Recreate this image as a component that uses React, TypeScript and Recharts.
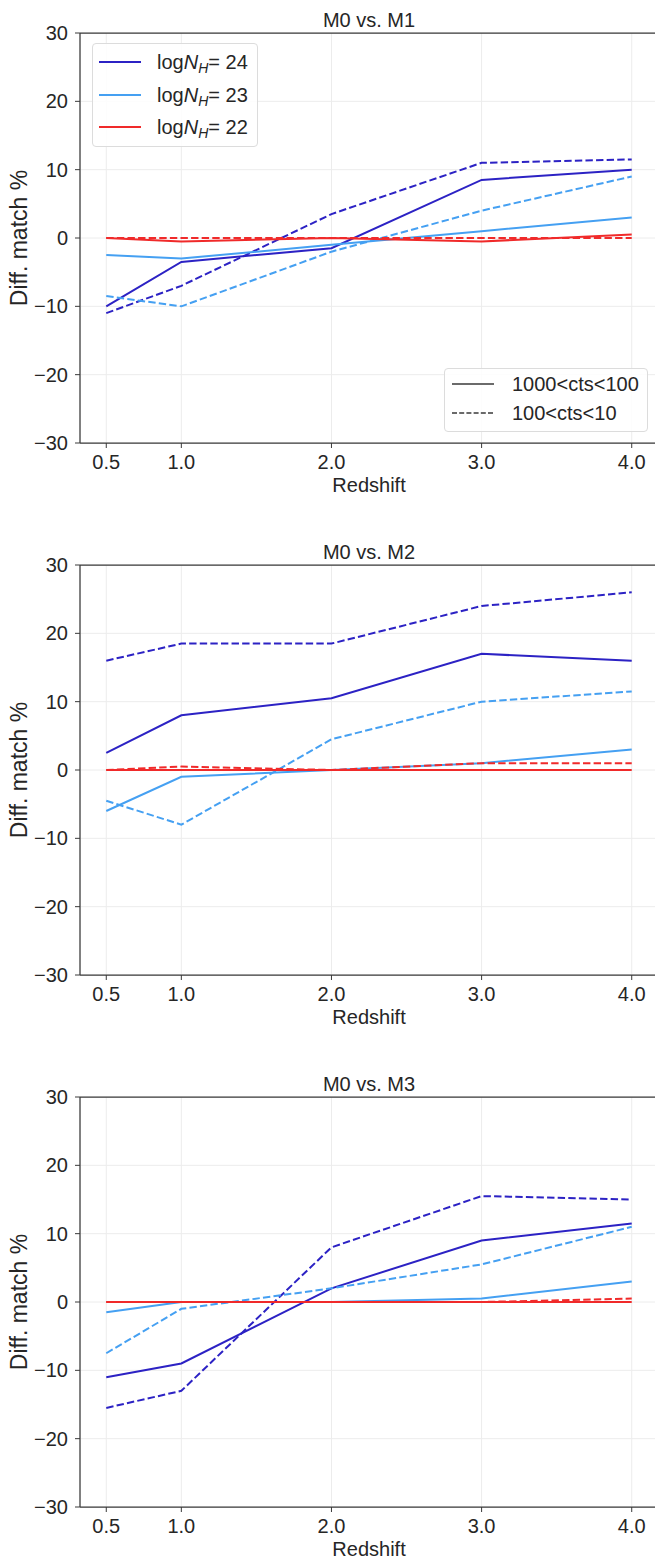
import { LineChart, Line, XAxis, YAxis, CartesianGrid, ReferenceLine } from 'recharts';

// redshift bins shared by every panel
const redshift = [0.5, 1.0, 2.0, 3.0, 4.0];
const xTicks = [0.5, 1.0, 2.0, 3.0, 4.0];
const yTicks = [-30, -20, -10, 0, 10, 20, 30];

// M0 vs. M1
const m1Nh24Bright = [-10, -3.5, -1.5, 8.5, 10];
const m1Nh24Faint = [-11, -7, 3.5, 11, 11.5];
const m1Nh23Bright = [-2.5, -3, -1, 1, 3];
const m1Nh23Faint = [-8.5, -10, -2, 4, 9];
const m1Nh22Bright = [0, -0.5, 0, -0.5, 0.5];
const m1Nh22Faint = [0, 0, 0, 0, 0];

// M0 vs. M2
const m2Nh24Bright = [2.5, 8, 10.5, 17, 16];
const m2Nh24Faint = [16, 18.5, 18.5, 24, 26];
const m2Nh23Bright = [-6, -1, 0, 1, 3];
const m2Nh23Faint = [-4.5, -8, 4.5, 10, 11.5];
const m2Nh22Bright = [0, 0, 0, 0, 0];
const m2Nh22Faint = [0, 0.5, 0, 1, 1];

// M0 vs. M3
const m3Nh24Bright = [-11, -9, 2, 9, 11.5];
const m3Nh24Faint = [-15.5, -13, 8, 15.5, 15];
const m3Nh23Bright = [-1.5, 0, 0, 0.5, 3];
const m3Nh23Faint = [-7.5, -1, 2, 5.5, 11];
const m3Nh22Bright = [0, 0, 0, 0, 0];
const m3Nh22Faint = [0, 0, 0, 0, 0.5];

const titles = ['M0 vs. M1', 'M0 vs. M2', 'M0 vs. M3'];
const nhLabels = ['24', '23', '22'];
const ctsLabels = ['1000<cts<100', '100<cts<10'];

const FONT = '"Liberation Sans", Arial, sans-serif';
const TEXT = '#262626';
const SPINE = '#3a3a3a';
const DARK = '#2c22c4';
const LIGHT = '#45a0f2';
const RED = '#f02a2a';
const DASH = '7.4 3.2';

const seriesDefs = [
  { key: 'nh24b', color: DARK, dash: undefined },
  { key: 'nh24f', color: DARK, dash: DASH },
  { key: 'nh23b', color: LIGHT, dash: undefined },
  { key: 'nh23f', color: LIGHT, dash: DASH },
  { key: 'nh22b', color: RED, dash: undefined },
  { key: 'nh22f', color: RED, dash: DASH },
];

const panelSeries = [
  [m1Nh24Bright, m1Nh24Faint, m1Nh23Bright, m1Nh23Faint, m1Nh22Bright, m1Nh22Faint],
  [m2Nh24Bright, m2Nh24Faint, m2Nh23Bright, m2Nh23Faint, m2Nh22Bright, m2Nh22Faint],
  [m3Nh24Bright, m3Nh24Faint, m3Nh23Bright, m3Nh23Faint, m3Nh22Bright, m3Nh22Faint],
];

const buildRows = (series: number[][]) =>
  redshift.map((z, i) => {
    const row: any = { z };
    seriesDefs.forEach((s, j) => {
      row[s.key] = series[j][i];
    });
    return row;
  });

const fmtY = (v: number) => (v < 0 ? `\u2212${Math.abs(v)}` : `${v}`);

function NhLegend() {
  const colors = [DARK, LIGHT, RED];
  return (
    <div
      style={{
        position: 'absolute', left: 92, top: 43, width: 166, height: 104,
        border: '1px solid #dcdcdc', borderRadius: 4, boxSizing: 'border-box',
        background: 'rgba(255,255,255,0.85)', fontFamily: FONT, fontSize: 20, color: TEXT,
      }}
    >
      {nhLabels.map((lab, i) => (
        <div key={lab} style={{ position: 'absolute', left: 0, top: 18 + i * 32.5 - 12, height: 24, width: 164 }}>
          <svg width={42} height={4} style={{ position: 'absolute', left: 6, top: 10 }}>
            <line x1={0} y1={2} x2={42} y2={2} stroke={colors[i]} strokeWidth={2} />
          </svg>
          <span style={{ position: 'absolute', left: 64, top: 0, lineHeight: '24px', whiteSpace: 'nowrap' }}>
            log<i>N</i>
            <span style={{ fontSize: 14, fontStyle: 'italic', verticalAlign: '-4px', lineHeight: 0 }}>H</span>= {lab}
          </span>
        </div>
      ))}
    </div>
  );
}

function CtsLegend() {
  return (
    <div
      style={{
        position: 'absolute', left: 444, top: 368, width: 204, height: 64,
        border: '1px solid #dcdcdc', borderRadius: 4, boxSizing: 'border-box',
        background: 'rgba(255,255,255,0.85)', fontFamily: FONT, fontSize: 20, color: TEXT,
      }}
    >
      {ctsLabels.map((lab, i) => (
        <div key={lab} style={{ position: 'absolute', left: 0, top: 15 + i * 29 - 12, height: 24, width: 202 }}>
          <svg width={42} height={4} style={{ position: 'absolute', left: 7, top: 10 }}>
            <line x1={0} y1={2} x2={42} y2={2} stroke={SPINE} strokeWidth={1.6} strokeDasharray={i === 1 ? '5 2.2' : undefined} />
          </svg>
          <span style={{ position: 'absolute', left: 67, top: 0, lineHeight: '24px', whiteSpace: 'nowrap' }}>{lab}</span>
        </div>
      ))}
    </div>
  );
}

function Panel({ title, series, withLegend }: { title: string; series: number[][]; withLegend: boolean }) {
  const rows = buildRows(series);
  return (
    <div style={{ position: 'relative', width: 660, height: 532 }}>
      <LineChart
        width={660}
        height={532}
        data={rows}
        margin={{ top: 33, right: 2, bottom: 29, left: 0 }}
        style={{ fontFamily: FONT }}
      >
        <CartesianGrid stroke="#ececec" strokeWidth={1} />
        <XAxis
          dataKey="z"
          type="number"
          domain={[0.325, 4.175]}
          ticks={xTicks}
          allowDataOverflow
          interval={0}
          tickFormatter={(v: number) => v.toFixed(1)}
          height={60}
          tickSize={5}
          tickMargin={7}
          axisLine={{ stroke: SPINE, strokeWidth: 1.25 }}
          tickLine={{ stroke: SPINE, strokeWidth: 1 }}
          tick={{ fontSize: 20, fill: TEXT, fontFamily: FONT }}
          label={{ value: 'Redshift', position: 'insideBottom', offset: 11, fontSize: 20, fill: TEXT, fontFamily: FONT }}
        />
        <YAxis
          type="number"
          domain={[-30, 30]}
          ticks={yTicks}
          interval={0}
          width={80}
          tickSize={5}
          tickMargin={7}
          tickFormatter={fmtY}
          axisLine={{ stroke: SPINE, strokeWidth: 1.25 }}
          tickLine={{ stroke: SPINE, strokeWidth: 1 }}
          tick={{ fontSize: 20, fill: TEXT, fontFamily: FONT }}
          label={{
            value: 'Diff. match %', angle: -90, position: 'insideLeft', offset: 19,
            fontSize: 23, fill: TEXT, fontFamily: FONT, style: { textAnchor: 'middle' },
          }}
        />
        <ReferenceLine y={30} stroke={SPINE} strokeWidth={1.25} ifOverflow="visible" />
        {seriesDefs.map((s) => (
          <Line
            key={s.key}
            type="linear"
            dataKey={s.key}
            stroke={s.color}
            strokeWidth={2}
            strokeDasharray={s.dash}
            dot={false}
            activeDot={false}
            isAnimationActive={false}
          />
        ))}
      </LineChart>
      <div
        style={{
          position: 'absolute', left: 80, width: 578, top: 10, textAlign: 'center',
          fontFamily: FONT, fontSize: 20, lineHeight: '20px', color: TEXT,
        }}
      >
        {title}
      </div>
      {withLegend && <NhLegend />}
      {withLegend && <CtsLegend />}
    </div>
  );
}

export default function App() {
  return (
    <div style={{ position: 'absolute', left: 0, top: 0, width: 655, height: 1560, overflow: 'hidden', background: '#fff' }}>
      {titles.map((t, i) => (
        <Panel key={t} title={t} series={panelSeries[i]} withLegend={i === 0} />
      ))}
    </div>
  );
}
